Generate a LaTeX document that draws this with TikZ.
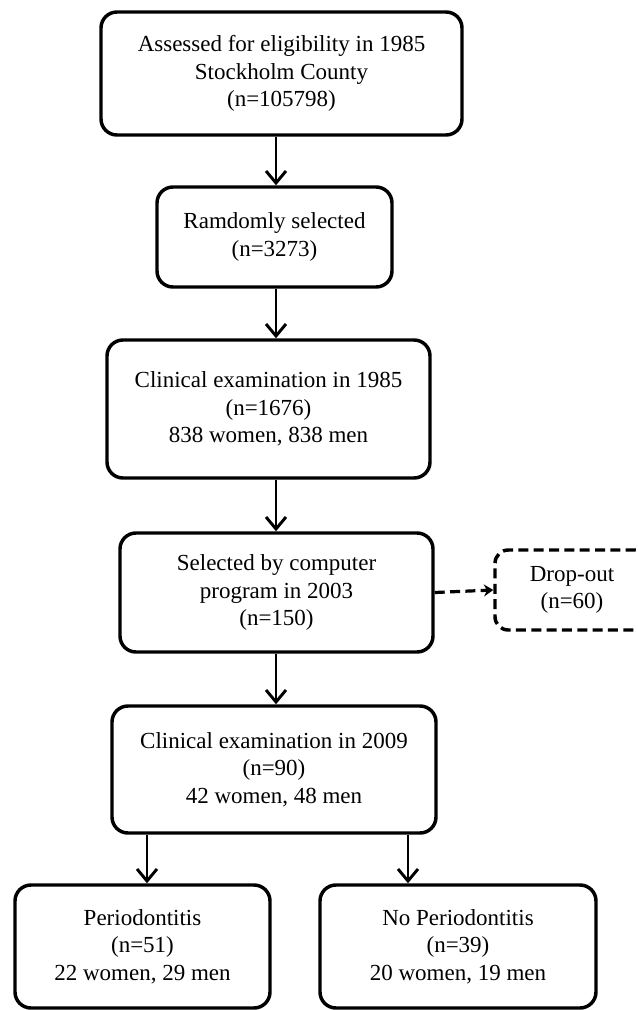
\documentclass[tikz,border=0pt]{standalone}
\usepackage{fontspec}
\setmainfont{Liberation Serif}
\usetikzlibrary{arrows.meta}
\begin{document}
\begin{tikzpicture}[x=0.75pt,y=-0.75pt,
  box/.style={draw, line width=2.6pt, rounded corners=12pt, align=center, inner sep=0pt,
    font=\fontsize{17.25pt}{20.5pt}\selectfont},
  dbox/.style={box, dash pattern=on 7.5pt off 4pt, rounded corners=10pt},
  arr/.style={line width=2.2pt, -{Straight Barb[length=9pt,width=15pt]}},
  darr/.style={line width=2.4pt, dash pattern=on 7.5pt off 4pt, -{Stealth[length=7pt,width=9pt]}}]
\useasboundingbox (0,0) rectangle (638,1010);
\fill[white] (0,0) rectangle (638,1010);

\node[box, minimum width={361*0.75pt}, minimum height={123*0.75pt}] (b1) at (281.5,73.5)
  {Assessed for eligibility in 1985\\Stockholm County\\(n=105798)};
\node[box, minimum width={235*0.75pt}, minimum height={100*0.75pt}] (b2) at (274.5,237)
  {Ramdomly selected\\(n=3273)};
\node[box, minimum width={323*0.75pt}, minimum height={138*0.75pt}] (b3) at (268.5,409)
  {Clinical examination in 1985\\(n=1676)\\838 women, 838 men};
\node[box, minimum width={313*0.75pt}, minimum height={119*0.75pt}] (b4) at (276.5,592.5)
  {Selected by computer\\program in 2003\\(n=150)};
\node[dbox, minimum width={154*0.75pt}, minimum height={80*0.75pt}] (drop) at (572,590)
  {Drop-out\\(n=60)};
\node[box, minimum width={324*0.75pt}, minimum height={127*0.75pt}] (b5) at (274,769.5)
  {Clinical examination in 2009\\(n=90)\\42 women, 48 men};
\node[box, minimum width={255*0.75pt}, minimum height={123*0.75pt}] (perio) at (142.5,946.5)
  {Periodontitis\\(n=51)\\22 women, 29 men};
\node[box, minimum width={276*0.75pt}, minimum height={123*0.75pt}] (noperio) at (458,946.5)
  {No Periodontitis\\(n=39)\\20 women, 19 men};

\coordinate (axis) at (276,0);
\coordinate (lx) at (147,0);
\coordinate (rx) at (408,0);

\draw[arr] (b1.south -| axis) -- (b2.north -| axis);
\draw[arr] (b2.south -| axis) -- (b3.north -| axis);
\draw[arr] (b3.south -| axis) -- (b4.north -| axis);
\draw[arr] (b4.south -| axis) -- (b5.north -| axis);
\draw[darr] (b4.east) -- (drop.west);
\draw[arr] (b5.south -| lx) -- (perio.north -| lx);
\draw[arr] (b5.south -| rx) -- (noperio.north -| rx);
\end{tikzpicture}
\end{document}
